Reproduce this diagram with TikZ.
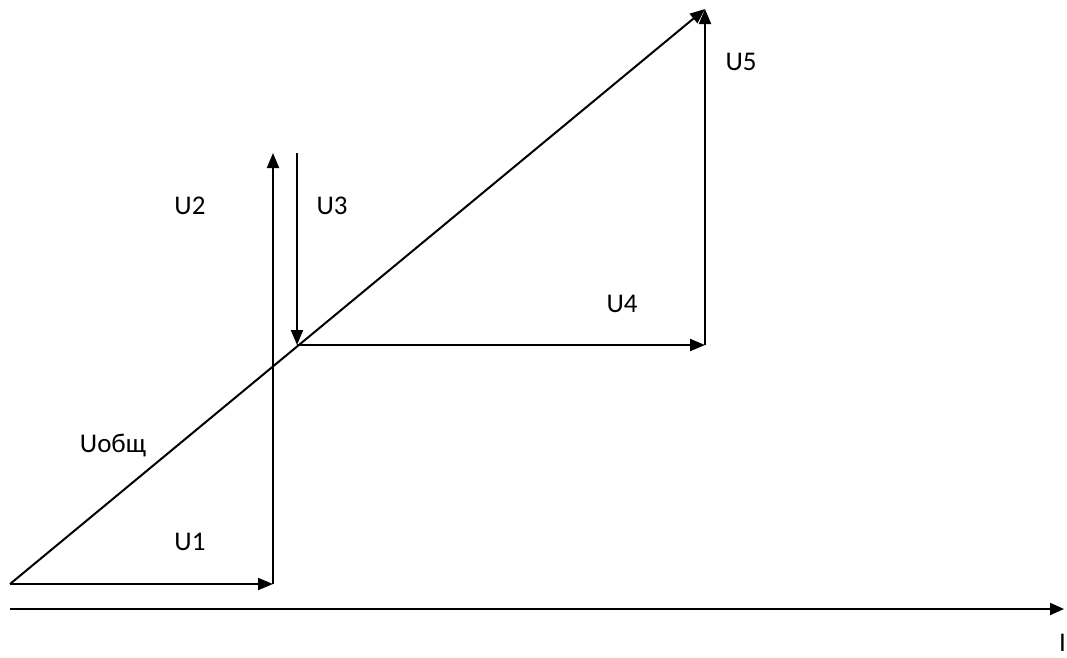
\documentclass[tikz,border=0pt]{standalone}
\usepackage{fontspec}
\setmainfont{Carlito}
\usetikzlibrary{arrows.meta}
\begin{document}
\begin{tikzpicture}[x=1pt,y=-1pt,
  vec/.style={line width=2pt,-{Triangle[length=15pt,width=12pt]}},
  lbl/.style={font=\fontsize{27}{32}\selectfont,inner sep=0pt}]
\useasboundingbox (0,0) rectangle (1067,657);
\coordinate (o) at (10,584);
\coordinate (a) at (273,584);
\coordinate (b) at (273,153);
\coordinate (c) at (297,153);
\coordinate (d) at (297,345);
\coordinate (e) at (705,345);
\coordinate (f) at (705,9);
\coordinate (ax0) at (10,609);
\coordinate (ax1) at (1064,609);
\draw[line width=2pt] (a) -- (273,170);
\draw[vec] (273,200) -- (b);
\draw[vec] (o) -- (a);
\draw[vec] (c) -- (d);
\draw[vec] (d) -- (e);
\draw[vec] (e) -- (f);
\draw[vec] (o) -- (f);
\draw[line width=2pt,-{Triangle[length=14pt,width=12pt]}] (ax0) -- (ax1);
\node[lbl] (u1) at (190,542) {U1};
\node[lbl] (u2) at (190,206) {U2};
\node[lbl] (u3) at (332,206) {U3};
\node[lbl] (u4) at (622,304) {U4};
\node[lbl] (u5) at (741,62) {U5};
\node[lbl] (uo) at (113,446) {Uобщ};
\node[lbl,anchor=west] (i) at (1059,643) {I};
\end{tikzpicture}
\end{document}
